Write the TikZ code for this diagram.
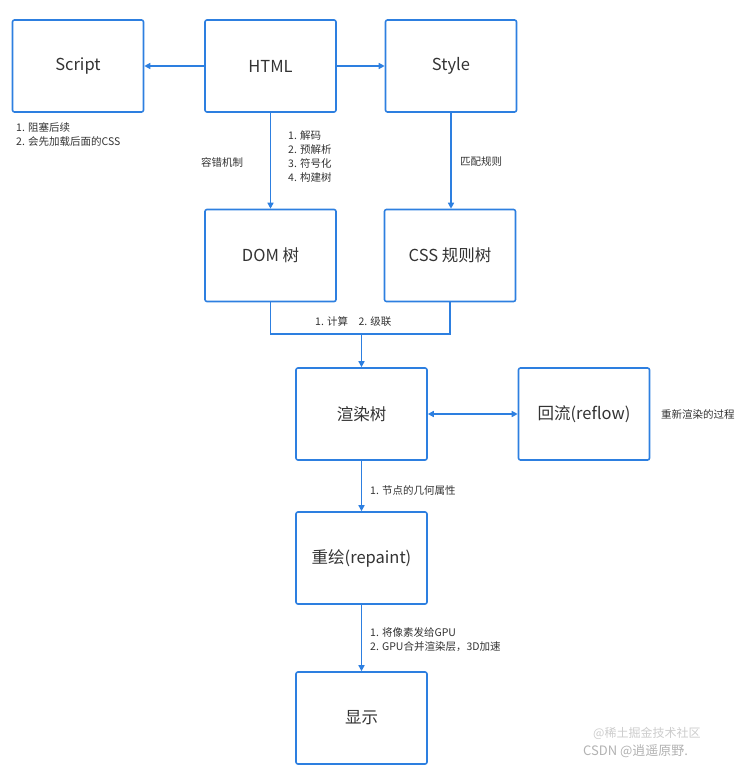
\documentclass[tikz,border=0pt]{standalone}
\usepackage{fontspec}
\setmainfont{Noto Sans CJK SC}
\usetikzlibrary{arrows.meta}
\definecolor{bl}{HTML}{2D7FE0}
\definecolor{tx}{HTML}{333333}
\begin{document}
\begin{tikzpicture}[x=1pt,y=-1pt,
  box/.style={draw=bl,line width=1.6pt,rounded corners=2pt,minimum width=131pt,minimum height=92pt,inner sep=0pt,text=tx,font=\fontsize{16.5}{18}\selectfont},
  lbl/.style={text=tx,font=\fontsize{10.5}{14}\selectfont,inner sep=0pt,align=left},
  con/.style={draw=bl,line width=1.6pt,-{Triangle[length=6pt,width=6pt]}}]
\useasboundingbox (0,0) rectangle (754,771);
\node[box] (script) at (78,66) {Script};
\node[box] (html) at (270.5,66) {HTML};
\node[box] (style) at (451,66) {Style};
\node[box] (dom) at (270.5,255.5) {DOM 树};
\node[box] (css) at (450,255.5) {CSS 规则树};
\node[box] (render) at (361.5,414) {渲染树};
\node[box] (reflow) at (584,414) {回流(reflow)};
\node[box] (repaint) at (361.5,558) {重绘(repaint)};
\node[box] (show) at (361.5,718) {显示};
\draw[con] (html) -- (script);
\draw[con] (html) -- (style);
\draw[con] (html) -- (dom);
\draw[con] (style.south) -- (css.north -| style.south);
\coordinate (j) at (361.5,334);
\draw[draw=bl,line width=1.6pt] (dom.south) |- (j) -| (css.south);
\draw[con] (j) -- (render);
\draw[con,{Triangle[length=6pt,width=6pt]}-{Triangle[length=6pt,width=6pt]}] (render) -- (reflow);
\draw[con] (render) -- (repaint);
\draw[con] (repaint) -- (show);
\node[lbl,anchor=north west] (l1) at (16,122) {1. 阻塞后续\\2. 会先加载后面的CSS};
\node[lbl,anchor=west] (l2) at (201,162) {容错机制};
\node[lbl,anchor=north west] (l3) at (288,130) {1. 解码\\2. 预解析\\3. 符号化\\4. 构建树};
\node[lbl,anchor=west] (l4) at (460,162) {匹配规则};
\node[lbl,anchor=west] (l5) at (315,322) {1. 计算\quad 2. 级联};
\node[lbl,anchor=west] (l6) at (661,414) {重新渲染的过程};
\node[lbl,anchor=west] (l7) at (370,490) {1. 节点的几何属性};
\node[lbl,anchor=north west] (l8) at (370,627) {1. 将像素发给GPU\\2. GPU合并渲染层，3D加速};
\node[text=gray!40,font=\fontsize{12}{12}\selectfont,anchor=west,inner sep=0pt] (w1) at (593,733) {@稀土掘金技术社区};
\node[text=gray!60,font=\fontsize{13}{13}\selectfont,anchor=west,inner sep=0pt] (w2) at (583,751) {CSDN @逍遥原野.};
\end{tikzpicture}
\end{document}
